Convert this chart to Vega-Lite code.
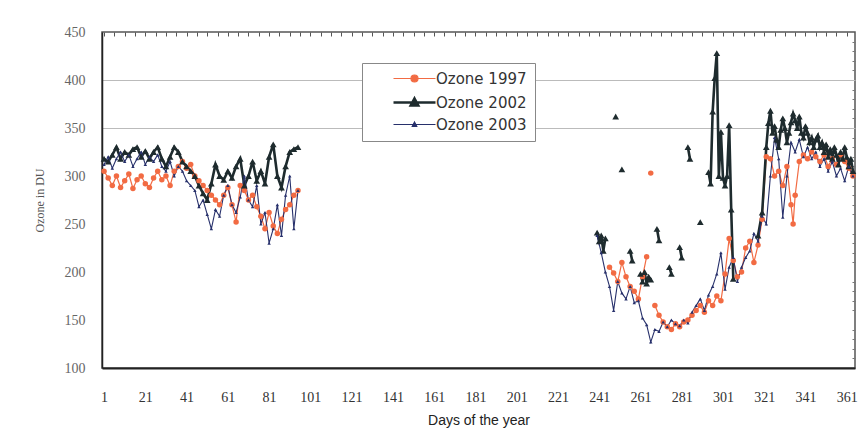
{
  "$schema": "https://vega.github.io/schema/vega-lite/v6.json",
  "width": 753,
  "height": 336,
  "autosize": {"type": "none"},
  "padding": {"left": 102, "top": 32, "right": 10, "bottom": 76},
  "background": "white",
  "config": {
    "view": {"stroke": "#555", "strokeWidth": 1.5},
    "axis": {"grid": false}
  },
  "data": {"values": [
    {"day":1,"series":"Ozone 1997","ozone":305},{"day":3,"series":"Ozone 1997","ozone":298},{"day":5,"series":"Ozone 1997","ozone":290},{"day":7,"series":"Ozone 1997","ozone":300},{"day":9,"series":"Ozone 1997","ozone":288},{"day":11,"series":"Ozone 1997","ozone":295},{"day":13,"series":"Ozone 1997","ozone":302},{"day":15,"series":"Ozone 1997","ozone":287},{"day":17,"series":"Ozone 1997","ozone":296},{"day":19,"series":"Ozone 1997","ozone":300},{"day":21,"series":"Ozone 1997","ozone":292},{"day":23,"series":"Ozone 1997","ozone":288},{"day":25,"series":"Ozone 1997","ozone":298},{"day":27,"series":"Ozone 1997","ozone":305},{"day":29,"series":"Ozone 1997","ozone":296},{"day":31,"series":"Ozone 1997","ozone":300},{"day":33,"series":"Ozone 1997","ozone":290},{"day":35,"series":"Ozone 1997","ozone":305},{"day":37,"series":"Ozone 1997","ozone":310},{"day":39,"series":"Ozone 1997","ozone":315},{"day":41,"series":"Ozone 1997","ozone":308},{"day":43,"series":"Ozone 1997","ozone":312},{"day":45,"series":"Ozone 1997","ozone":300},{"day":47,"series":"Ozone 1997","ozone":295},{"day":49,"series":"Ozone 1997","ozone":290},{"day":51,"series":"Ozone 1997","ozone":285},{"day":53,"series":"Ozone 1997","ozone":280},{"day":55,"series":"Ozone 1997","ozone":275},{"day":57,"series":"Ozone 1997","ozone":270},{"day":59,"series":"Ozone 1997","ozone":280},{"day":61,"series":"Ozone 1997","ozone":288},{"day":63,"series":"Ozone 1997","ozone":270},{"day":65,"series":"Ozone 1997","ozone":252},{"day":67,"series":"Ozone 1997","ozone":290},{"day":69,"series":"Ozone 1997","ozone":285},{"day":71,"series":"Ozone 1997","ozone":275},{"day":73,"series":"Ozone 1997","ozone":280},{"day":75,"series":"Ozone 1997","ozone":268},{"day":77,"series":"Ozone 1997","ozone":258},{"day":79,"series":"Ozone 1997","ozone":245},{"day":81,"series":"Ozone 1997","ozone":262},{"day":83,"series":"Ozone 1997","ozone":248},{"day":85,"series":"Ozone 1997","ozone":240},{"day":87,"series":"Ozone 1997","ozone":255},{"day":89,"series":"Ozone 1997","ozone":265},{"day":91,"series":"Ozone 1997","ozone":270},{"day":93,"series":"Ozone 1997","ozone":280},{"day":95,"series":"Ozone 1997","ozone":285},
    {"day":150,"series":"Ozone 1997","ozone":null},
    {"day":246,"series":"Ozone 1997","ozone":205},{"day":248,"series":"Ozone 1997","ozone":199},{"day":250,"series":"Ozone 1997","ozone":190},{"day":252,"series":"Ozone 1997","ozone":210},{"day":254,"series":"Ozone 1997","ozone":195},{"day":256,"series":"Ozone 1997","ozone":185},{"day":258,"series":"Ozone 1997","ozone":180},{"day":260,"series":"Ozone 1997","ozone":172},{"day":262,"series":"Ozone 1997","ozone":195},{"day":264,"series":"Ozone 1997","ozone":216},{"day":265,"series":"Ozone 1997","ozone":null},{"day":266,"series":"Ozone 1997","ozone":303},{"day":267,"series":"Ozone 1997","ozone":null},{"day":268,"series":"Ozone 1997","ozone":165},{"day":270,"series":"Ozone 1997","ozone":155},{"day":272,"series":"Ozone 1997","ozone":148},{"day":274,"series":"Ozone 1997","ozone":143},{"day":276,"series":"Ozone 1997","ozone":140},{"day":278,"series":"Ozone 1997","ozone":146},{"day":280,"series":"Ozone 1997","ozone":143},{"day":282,"series":"Ozone 1997","ozone":148},{"day":284,"series":"Ozone 1997","ozone":150},{"day":286,"series":"Ozone 1997","ozone":155},{"day":288,"series":"Ozone 1997","ozone":160},{"day":290,"series":"Ozone 1997","ozone":165},{"day":292,"series":"Ozone 1997","ozone":158},{"day":294,"series":"Ozone 1997","ozone":170},{"day":296,"series":"Ozone 1997","ozone":165},{"day":298,"series":"Ozone 1997","ozone":175},{"day":300,"series":"Ozone 1997","ozone":170},{"day":302,"series":"Ozone 1997","ozone":198},{"day":304,"series":"Ozone 1997","ozone":235},{"day":306,"series":"Ozone 1997","ozone":212},{"day":308,"series":"Ozone 1997","ozone":195},{"day":310,"series":"Ozone 1997","ozone":200},{"day":312,"series":"Ozone 1997","ozone":225},{"day":314,"series":"Ozone 1997","ozone":232},{"day":316,"series":"Ozone 1997","ozone":210},{"day":318,"series":"Ozone 1997","ozone":228},{"day":320,"series":"Ozone 1997","ozone":255},{"day":322,"series":"Ozone 1997","ozone":320},{"day":324,"series":"Ozone 1997","ozone":318},{"day":326,"series":"Ozone 1997","ozone":300},{"day":328,"series":"Ozone 1997","ozone":305},{"day":330,"series":"Ozone 1997","ozone":290},{"day":332,"series":"Ozone 1997","ozone":310},{"day":334,"series":"Ozone 1997","ozone":270},{"day":335,"series":"Ozone 1997","ozone":250},{"day":336,"series":"Ozone 1997","ozone":280},{"day":338,"series":"Ozone 1997","ozone":315},{"day":340,"series":"Ozone 1997","ozone":322},{"day":342,"series":"Ozone 1997","ozone":318},{"day":344,"series":"Ozone 1997","ozone":325},{"day":346,"series":"Ozone 1997","ozone":320},{"day":348,"series":"Ozone 1997","ozone":315},{"day":350,"series":"Ozone 1997","ozone":322},{"day":352,"series":"Ozone 1997","ozone":310},{"day":354,"series":"Ozone 1997","ozone":318},{"day":356,"series":"Ozone 1997","ozone":312},{"day":358,"series":"Ozone 1997","ozone":322},{"day":360,"series":"Ozone 1997","ozone":315},{"day":362,"series":"Ozone 1997","ozone":308},{"day":364,"series":"Ozone 1997","ozone":300},

    {"day":1,"series":"Ozone 2002","ozone":318},{"day":3,"series":"Ozone 2002","ozone":315},{"day":5,"series":"Ozone 2002","ozone":322},{"day":7,"series":"Ozone 2002","ozone":330},{"day":9,"series":"Ozone 2002","ozone":318},{"day":11,"series":"Ozone 2002","ozone":325},{"day":13,"series":"Ozone 2002","ozone":322},{"day":15,"series":"Ozone 2002","ozone":328},{"day":17,"series":"Ozone 2002","ozone":330},{"day":19,"series":"Ozone 2002","ozone":320},{"day":21,"series":"Ozone 2002","ozone":326},{"day":23,"series":"Ozone 2002","ozone":318},{"day":25,"series":"Ozone 2002","ozone":325},{"day":27,"series":"Ozone 2002","ozone":330},{"day":29,"series":"Ozone 2002","ozone":318},{"day":31,"series":"Ozone 2002","ozone":310},{"day":33,"series":"Ozone 2002","ozone":320},{"day":35,"series":"Ozone 2002","ozone":330},{"day":37,"series":"Ozone 2002","ozone":325},{"day":39,"series":"Ozone 2002","ozone":315},{"day":41,"series":"Ozone 2002","ozone":310},{"day":43,"series":"Ozone 2002","ozone":305},{"day":45,"series":"Ozone 2002","ozone":300},{"day":47,"series":"Ozone 2002","ozone":290},{"day":49,"series":"Ozone 2002","ozone":282},{"day":51,"series":"Ozone 2002","ozone":275},{"day":53,"series":"Ozone 2002","ozone":292},{"day":55,"series":"Ozone 2002","ozone":312},{"day":57,"series":"Ozone 2002","ozone":300},{"day":59,"series":"Ozone 2002","ozone":296},{"day":61,"series":"Ozone 2002","ozone":305},{"day":63,"series":"Ozone 2002","ozone":298},{"day":65,"series":"Ozone 2002","ozone":310},{"day":67,"series":"Ozone 2002","ozone":318},{"day":69,"series":"Ozone 2002","ozone":290},{"day":71,"series":"Ozone 2002","ozone":300},{"day":73,"series":"Ozone 2002","ozone":315},{"day":75,"series":"Ozone 2002","ozone":295},{"day":77,"series":"Ozone 2002","ozone":305},{"day":79,"series":"Ozone 2002","ozone":292},{"day":81,"series":"Ozone 2002","ozone":320},{"day":83,"series":"Ozone 2002","ozone":333},{"day":85,"series":"Ozone 2002","ozone":300},{"day":87,"series":"Ozone 2002","ozone":288},{"day":89,"series":"Ozone 2002","ozone":310},{"day":91,"series":"Ozone 2002","ozone":325},{"day":93,"series":"Ozone 2002","ozone":328},{"day":95,"series":"Ozone 2002","ozone":330},
    {"day":150,"series":"Ozone 2002","ozone":null},
    {"day":240,"series":"Ozone 2002","ozone":241},{"day":241,"series":"Ozone 2002","ozone":232},{"day":242,"series":"Ozone 2002","ozone":238},{"day":243,"series":"Ozone 2002","ozone":222},{"day":244,"series":"Ozone 2002","ozone":235},{"day":245,"series":"Ozone 2002","ozone":null},
    {"day":249,"series":"Ozone 2002","ozone":362},{"day":250,"series":"Ozone 2002","ozone":null},
    {"day":252,"series":"Ozone 2002","ozone":307},{"day":253,"series":"Ozone 2002","ozone":null},
    {"day":256,"series":"Ozone 2002","ozone":222},{"day":257,"series":"Ozone 2002","ozone":212},{"day":258,"series":"Ozone 2002","ozone":null},
    {"day":261,"series":"Ozone 2002","ozone":198},{"day":262,"series":"Ozone 2002","ozone":190},{"day":263,"series":"Ozone 2002","ozone":200},{"day":264,"series":"Ozone 2002","ozone":188},{"day":265,"series":"Ozone 2002","ozone":195},{"day":266,"series":"Ozone 2002","ozone":192},{"day":267,"series":"Ozone 2002","ozone":null},
    {"day":269,"series":"Ozone 2002","ozone":245},{"day":270,"series":"Ozone 2002","ozone":233},{"day":271,"series":"Ozone 2002","ozone":null},
    {"day":275,"series":"Ozone 2002","ozone":205},{"day":276,"series":"Ozone 2002","ozone":198},{"day":277,"series":"Ozone 2002","ozone":null},
    {"day":280,"series":"Ozone 2002","ozone":226},{"day":281,"series":"Ozone 2002","ozone":215},{"day":282,"series":"Ozone 2002","ozone":null},
    {"day":284,"series":"Ozone 2002","ozone":330},{"day":285,"series":"Ozone 2002","ozone":318},{"day":286,"series":"Ozone 2002","ozone":null},
    {"day":290,"series":"Ozone 2002","ozone":252},{"day":291,"series":"Ozone 2002","ozone":null},
    {"day":294,"series":"Ozone 2002","ozone":304},{"day":295,"series":"Ozone 2002","ozone":292},{"day":296,"series":"Ozone 2002","ozone":367},{"day":297,"series":"Ozone 2002","ozone":402},{"day":298,"series":"Ozone 2002","ozone":428},{"day":299,"series":"Ozone 2002","ozone":300},{"day":300,"series":"Ozone 2002","ozone":346},{"day":301,"series":"Ozone 2002","ozone":298},{"day":302,"series":"Ozone 2002","ozone":290},{"day":303,"series":"Ozone 2002","ozone":300},{"day":304,"series":"Ozone 2002","ozone":353},{"day":305,"series":"Ozone 2002","ozone":265},{"day":306,"series":"Ozone 2002","ozone":193},{"day":307,"series":"Ozone 2002","ozone":null},
    {"day":318,"series":"Ozone 2002","ozone":238},{"day":320,"series":"Ozone 2002","ozone":262},{"day":322,"series":"Ozone 2002","ozone":330},{"day":323,"series":"Ozone 2002","ozone":355},{"day":324,"series":"Ozone 2002","ozone":368},{"day":325,"series":"Ozone 2002","ozone":345},{"day":326,"series":"Ozone 2002","ozone":352},{"day":327,"series":"Ozone 2002","ozone":338},{"day":328,"series":"Ozone 2002","ozone":330},{"day":329,"series":"Ozone 2002","ozone":348},{"day":330,"series":"Ozone 2002","ozone":360},{"day":331,"series":"Ozone 2002","ozone":350},{"day":332,"series":"Ozone 2002","ozone":335},{"day":333,"series":"Ozone 2002","ozone":345},{"day":334,"series":"Ozone 2002","ozone":356},{"day":335,"series":"Ozone 2002","ozone":365},{"day":336,"series":"Ozone 2002","ozone":358},{"day":337,"series":"Ozone 2002","ozone":350},{"day":338,"series":"Ozone 2002","ozone":362},{"day":339,"series":"Ozone 2002","ozone":345},{"day":340,"series":"Ozone 2002","ozone":340},{"day":341,"series":"Ozone 2002","ozone":352},{"day":342,"series":"Ozone 2002","ozone":345},{"day":343,"series":"Ozone 2002","ozone":335},{"day":344,"series":"Ozone 2002","ozone":340},{"day":345,"series":"Ozone 2002","ozone":330},{"day":346,"series":"Ozone 2002","ozone":338},{"day":347,"series":"Ozone 2002","ozone":342},{"day":348,"series":"Ozone 2002","ozone":330},{"day":349,"series":"Ozone 2002","ozone":335},{"day":350,"series":"Ozone 2002","ozone":325},{"day":351,"series":"Ozone 2002","ozone":333},{"day":352,"series":"Ozone 2002","ozone":320},{"day":353,"series":"Ozone 2002","ozone":328},{"day":354,"series":"Ozone 2002","ozone":318},{"day":355,"series":"Ozone 2002","ozone":330},{"day":356,"series":"Ozone 2002","ozone":322},{"day":357,"series":"Ozone 2002","ozone":312},{"day":358,"series":"Ozone 2002","ozone":325},{"day":359,"series":"Ozone 2002","ozone":318},{"day":360,"series":"Ozone 2002","ozone":330},{"day":361,"series":"Ozone 2002","ozone":320},{"day":362,"series":"Ozone 2002","ozone":310},{"day":363,"series":"Ozone 2002","ozone":318},{"day":364,"series":"Ozone 2002","ozone":305},

    {"day":1,"series":"Ozone 2003","ozone":312},{"day":3,"series":"Ozone 2003","ozone":320},{"day":5,"series":"Ozone 2003","ozone":308},{"day":7,"series":"Ozone 2003","ozone":318},{"day":9,"series":"Ozone 2003","ozone":325},{"day":11,"series":"Ozone 2003","ozone":315},{"day":13,"series":"Ozone 2003","ozone":322},{"day":15,"series":"Ozone 2003","ozone":310},{"day":17,"series":"Ozone 2003","ozone":318},{"day":19,"series":"Ozone 2003","ozone":325},{"day":21,"series":"Ozone 2003","ozone":312},{"day":23,"series":"Ozone 2003","ozone":320},{"day":25,"series":"Ozone 2003","ozone":315},{"day":27,"series":"Ozone 2003","ozone":322},{"day":29,"series":"Ozone 2003","ozone":310},{"day":31,"series":"Ozone 2003","ozone":305},{"day":33,"series":"Ozone 2003","ozone":315},{"day":35,"series":"Ozone 2003","ozone":300},{"day":37,"series":"Ozone 2003","ozone":310},{"day":39,"series":"Ozone 2003","ozone":305},{"day":41,"series":"Ozone 2003","ozone":295},{"day":43,"series":"Ozone 2003","ozone":290},{"day":45,"series":"Ozone 2003","ozone":285},{"day":47,"series":"Ozone 2003","ozone":268},{"day":49,"series":"Ozone 2003","ozone":275},{"day":51,"series":"Ozone 2003","ozone":260},{"day":53,"series":"Ozone 2003","ozone":245},{"day":55,"series":"Ozone 2003","ozone":265},{"day":57,"series":"Ozone 2003","ozone":258},{"day":59,"series":"Ozone 2003","ozone":280},{"day":61,"series":"Ozone 2003","ozone":290},{"day":63,"series":"Ozone 2003","ozone":270},{"day":65,"series":"Ozone 2003","ozone":262},{"day":67,"series":"Ozone 2003","ozone":278},{"day":69,"series":"Ozone 2003","ozone":300},{"day":71,"series":"Ozone 2003","ozone":275},{"day":73,"series":"Ozone 2003","ozone":268},{"day":75,"series":"Ozone 2003","ozone":290},{"day":77,"series":"Ozone 2003","ozone":250},{"day":79,"series":"Ozone 2003","ozone":262},{"day":81,"series":"Ozone 2003","ozone":230},{"day":83,"series":"Ozone 2003","ozone":245},{"day":85,"series":"Ozone 2003","ozone":270},{"day":87,"series":"Ozone 2003","ozone":238},{"day":89,"series":"Ozone 2003","ozone":280},{"day":91,"series":"Ozone 2003","ozone":300},{"day":93,"series":"Ozone 2003","ozone":245},{"day":95,"series":"Ozone 2003","ozone":285},
    {"day":150,"series":"Ozone 2003","ozone":null},
    {"day":240,"series":"Ozone 2003","ozone":238},{"day":242,"series":"Ozone 2003","ozone":220},{"day":244,"series":"Ozone 2003","ozone":200},{"day":246,"series":"Ozone 2003","ozone":185},{"day":248,"series":"Ozone 2003","ozone":160},{"day":250,"series":"Ozone 2003","ozone":190},{"day":252,"series":"Ozone 2003","ozone":178},{"day":254,"series":"Ozone 2003","ozone":172},{"day":256,"series":"Ozone 2003","ozone":185},{"day":258,"series":"Ozone 2003","ozone":168},{"day":260,"series":"Ozone 2003","ozone":170},{"day":262,"series":"Ozone 2003","ozone":152},{"day":264,"series":"Ozone 2003","ozone":145},{"day":266,"series":"Ozone 2003","ozone":127},{"day":268,"series":"Ozone 2003","ozone":140},{"day":270,"series":"Ozone 2003","ozone":138},{"day":272,"series":"Ozone 2003","ozone":148},{"day":274,"series":"Ozone 2003","ozone":143},{"day":276,"series":"Ozone 2003","ozone":150},{"day":278,"series":"Ozone 2003","ozone":146},{"day":280,"series":"Ozone 2003","ozone":144},{"day":282,"series":"Ozone 2003","ozone":150},{"day":284,"series":"Ozone 2003","ozone":147},{"day":286,"series":"Ozone 2003","ozone":158},{"day":288,"series":"Ozone 2003","ozone":165},{"day":290,"series":"Ozone 2003","ozone":172},{"day":292,"series":"Ozone 2003","ozone":160},{"day":294,"series":"Ozone 2003","ozone":176},{"day":296,"series":"Ozone 2003","ozone":185},{"day":298,"series":"Ozone 2003","ozone":198},{"day":300,"series":"Ozone 2003","ozone":220},{"day":302,"series":"Ozone 2003","ozone":182},{"day":304,"series":"Ozone 2003","ozone":205},{"day":306,"series":"Ozone 2003","ozone":215},{"day":308,"series":"Ozone 2003","ozone":190},{"day":310,"series":"Ozone 2003","ozone":205},{"day":312,"series":"Ozone 2003","ozone":215},{"day":314,"series":"Ozone 2003","ozone":222},{"day":316,"series":"Ozone 2003","ozone":240},{"day":318,"series":"Ozone 2003","ozone":232},{"day":320,"series":"Ozone 2003","ozone":258},{"day":322,"series":"Ozone 2003","ozone":250},{"day":324,"series":"Ozone 2003","ozone":300},{"day":326,"series":"Ozone 2003","ozone":340},{"day":328,"series":"Ozone 2003","ozone":318},{"day":330,"series":"Ozone 2003","ozone":257},{"day":332,"series":"Ozone 2003","ozone":300},{"day":334,"series":"Ozone 2003","ozone":335},{"day":336,"series":"Ozone 2003","ozone":325},{"day":338,"series":"Ozone 2003","ozone":338},{"day":340,"series":"Ozone 2003","ozone":320},{"day":342,"series":"Ozone 2003","ozone":330},{"day":344,"series":"Ozone 2003","ozone":318},{"day":346,"series":"Ozone 2003","ozone":325},{"day":348,"series":"Ozone 2003","ozone":310},{"day":350,"series":"Ozone 2003","ozone":318},{"day":352,"series":"Ozone 2003","ozone":305},{"day":354,"series":"Ozone 2003","ozone":315},{"day":356,"series":"Ozone 2003","ozone":300},{"day":358,"series":"Ozone 2003","ozone":308},{"day":360,"series":"Ozone 2003","ozone":295},{"day":362,"series":"Ozone 2003","ozone":310},{"day":364,"series":"Ozone 2003","ozone":300}
  ]},
  "layer": [
    {
      "mark": {"type": "line", "interpolate": "linear"},
      "encoding": {
        "x": {"field": "day", "type": "quantitative",
          "scale": {"domain": [0, 365], "nice": false, "zero": false},
          "axis": {"values": [1,21,41,61,81,101,121,141,161,181,201,221,241,261,281,301,321,341,361],
            "labelFont": "Liberation Serif", "labelFontSize": 14, "labelColor": "#333",
            "ticks": false, "labelPadding": 22, "domainColor": "#222", "domainWidth": 2,
            "grid": false, "title": "Days of the year", "titleFont": "Liberation Sans",
            "titleFontSize": 14, "titleFontWeight": "normal", "titleColor": "#222", "titlePadding": 9}},
        "y": {"field": "ozone", "type": "quantitative",
          "scale": {"domain": [100, 450], "nice": false, "zero": false},
          "axis": {"values": [100,150,200,250,300,350,400,450],
            "labelFont": "Liberation Serif", "labelFontSize": 14, "labelColor": "#666",
            "ticks": false, "labelPadding": 17, "domainColor": "#222", "domainWidth": 1.5,
            "grid": true, "gridColor": "#bbb", "gridWidth": 1,
            "gridOpacity": {"condition": {"test": "datum.value >= 350 && datum.value < 450", "value": 1}, "value": 0},
            "title": "Ozone in DU", "titleFont": "Liberation Serif", "titleFontSize": 12,
            "titleFontWeight": "normal", "titleColor": "#555", "titlePadding": 18}},
        "color": {"field": "series", "type": "nominal",
          "scale": {"domain": ["Ozone 1997", "Ozone 2002", "Ozone 2003"], "range": ["#f26b43", "#1e2b2e", "#27306b"]},
          "legend": {"orient": "none", "legendX": 260, "legendY": 31, "title": null,
            "padding": 8, "fillColor": "white", "strokeColor": "#888",
            "labelFont": "DejaVu Sans", "labelFontSize": 15, "labelColor": "#333",
            "symbolSize": 25, "symbolOffset": 37, "labelOffset": 14, "rowPadding": 6,
            "encode": {"symbols": {"update": {
              "shape": {"signal": "datum.value === 'Ozone 1997' ? 'M-8.4,0H8.4M-1.4,0A1.4,1.4,0,1,0,1.4,0A1.4,1.4,0,1,0,-1.4,0Z' : datum.value === 'Ozone 2002' ? 'M-8.4,0H8.4M0,-1.6L1.5,1.2L-1.5,1.2Z' : 'M-8.4,0H8.4M0,-1L0.9,0.8L-0.9,0.8Z'"},
              "fill": {"scale": "color", "field": "value"},
              "strokeWidth": {"signal": "datum.value === 'Ozone 2002' ? 2.6 : 1.2"},
              "size": {"value": 25}
            }}}}},
        "strokeWidth": {"field": "series", "type": "nominal",
          "scale": {"type": "ordinal", "domain": ["Ozone 2002", "Ozone 1997", "Ozone 2003"], "range": [2.6, 1.2, 1.1]},
          "legend": null}
      }
    },
    {
      "mark": {"type": "point", "filled": true, "opacity": 1},
      "encoding": {
        "x": {"field": "day", "type": "quantitative",
          "axis": {"values": [1,6,11,16,21,26,31,36,41,46,51,56,61,66,71,76,81,86,91,96,101,106,111,116,121,126,131,136,141,146,151,156,161,166,171,176,181,186,191,196,201,206,211,216,221,226,231,236,241,246,251,256,261,266,271,276,281,286,291,296,301,306,311,316,321,326,331,336,341,346,351,356,361],
            "labels": false, "domain": false, "ticks": true, "tickSize": 4, "offset": -4, "tickColor": "#555", "tickWidth": 1, "title": null, "grid": false}},
        "y": {"field": "ozone", "type": "quantitative",
          "axis": {"values": [110,120,130,140,160,170,180,190,210,220,230,240,260,270,280,290,310,320,330,340,360,370,380,390,410,420,430,440],
            "labels": false, "domain": false, "ticks": true, "tickSize": 3, "offset": -3, "tickColor": "#777", "tickWidth": 1, "title": null, "grid": false}},
        "color": {"field": "series", "type": "nominal", "legend": null},
        "shape": {"field": "series", "type": "nominal",
          "scale": {"domain": ["Ozone 2003", "Ozone 1997", "Ozone 2002"], "range": ["triangle-up", "circle", "triangle-up"]},
          "legend": null},
        "size": {"field": "series", "type": "nominal",
          "scale": {"type": "ordinal", "domain": ["Ozone 1997", "Ozone 2003", "Ozone 2002"], "range": [30, 12, 45]},
          "legend": null}
      }
    }
  ],
  "resolve": {"axis": {"x": "independent", "y": "independent"}}
}
